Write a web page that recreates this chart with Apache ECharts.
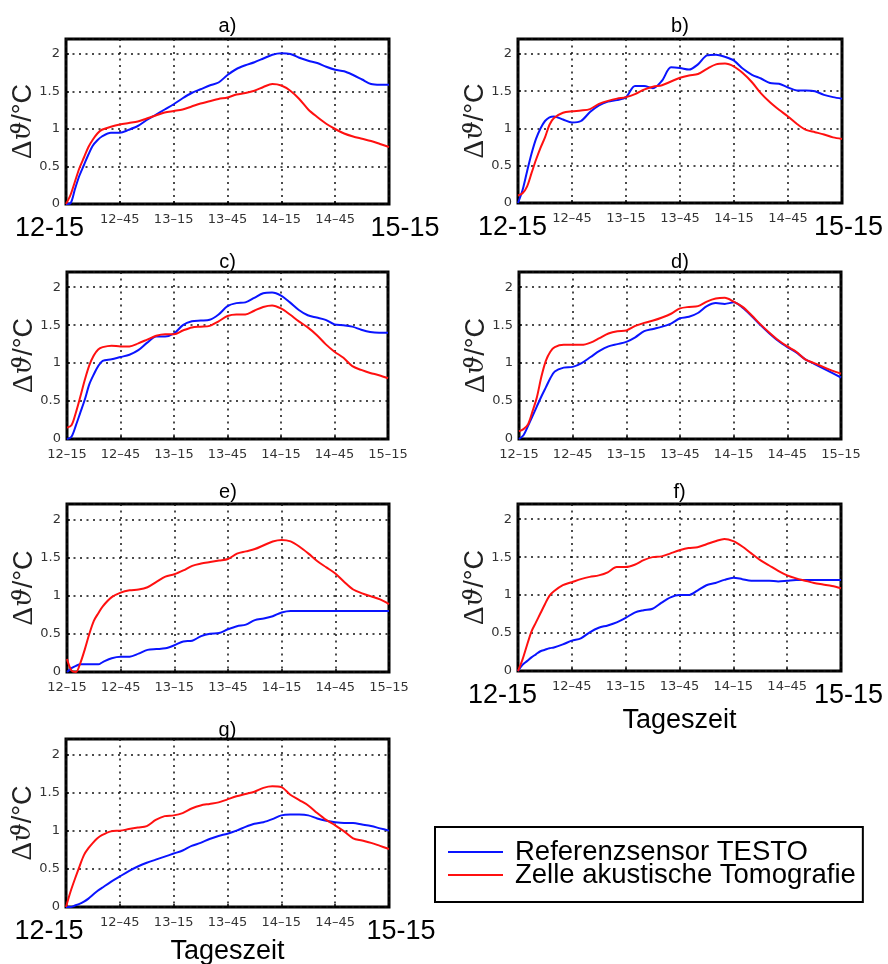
<!DOCTYPE html>
<html><head><meta charset="utf-8">
<script src="https://cdn.jsdelivr.net/npm/echarts@6/dist/echarts.min.js"></script>
<style>html,body{margin:0;padding:0;background:#fff}#c{width:888px;height:964px}</style>
</head><body><div id="c"></div>
<script>
// ---------- DATA ----------
const minutes = [0,2.5,5,7.5,10,12.5,15,17.5,20,25,30,35,40,45,50,55,60,65,70,75,80,85,90,95,100,105,110,115,120,125,130,135,140,145,150,155,160,165,170,175,180];
const xTickLabels = ['12–15','12–45','13–15','13–45','14–15','14–45','15–15'];
const bigEdgeLabels = ['12-15','15-15'];
const yTickLabels = ['0','0.5','1','1.5','2'];
const panelTitles = ['a)','b)','c)','d)','e)','f)','g)'];
const seriesNames = ['Referenzsensor TESTO','Zelle akustische Tomografie'];
const xAxisTitle = 'Tageszeit';

const aRef   = [0,0.01,0.2,0.38,0.52,0.66,0.78,0.85,0.9, 0.95,0.95,0.99,1.04,1.12,1.19,1.26,1.33,1.41,1.48,1.53,1.58,1.62,1.72,1.8,1.85,1.89,1.94,1.99,2.01,2.0,1.95,1.91,1.88,1.83,1.79,1.77,1.72,1.66,1.6,1.59,1.59];
const aZelle = [0,0.12,0.3,0.48,0.62,0.76,0.86,0.94,0.99, 1.03,1.06,1.08,1.1,1.14,1.18,1.22,1.24,1.26,1.3,1.34,1.37,1.4,1.42,1.46,1.48,1.51,1.56,1.6,1.58,1.51,1.4,1.26,1.16,1.07,1.0,0.94,0.9,0.87,0.84,0.8,0.76];
const bRef   = [0,0.17,0.42,0.66,0.86,1.0,1.1,1.15,1.16, 1.12,1.08,1.1,1.22,1.31,1.36,1.38,1.42,1.57,1.57,1.54,1.64,1.82,1.81,1.79,1.86,1.98,1.99,1.96,1.91,1.8,1.72,1.67,1.61,1.6,1.55,1.51,1.51,1.5,1.45,1.42,1.4];
const bZelle = [0.1,0.13,0.22,0.4,0.58,0.74,0.88,1.05,1.14, 1.21,1.23,1.24,1.26,1.33,1.37,1.4,1.42,1.46,1.52,1.56,1.58,1.63,1.68,1.71,1.73,1.8,1.86,1.87,1.83,1.74,1.62,1.47,1.35,1.25,1.16,1.06,0.98,0.95,0.92,0.88,0.86];
const cRef   = [0,0.03,0.18,0.35,0.52,0.72,0.85,0.96,1.03, 1.05,1.08,1.11,1.17,1.27,1.35,1.35,1.39,1.5,1.55,1.56,1.57,1.64,1.75,1.79,1.8,1.86,1.92,1.93,1.89,1.8,1.7,1.63,1.6,1.57,1.51,1.5,1.48,1.44,1.41,1.4,1.4];
const cZelle = [0.15,0.18,0.35,0.56,0.78,0.97,1.1,1.18,1.21, 1.23,1.22,1.22,1.26,1.31,1.36,1.38,1.38,1.43,1.47,1.48,1.49,1.55,1.62,1.64,1.64,1.69,1.74,1.76,1.72,1.64,1.55,1.47,1.37,1.25,1.15,1.07,0.96,0.91,0.87,0.84,0.8];
const dRef   = [0,0.05,0.17,0.3,0.43,0.56,0.68,0.8,0.89, 0.94,0.95,1.0,1.08,1.16,1.22,1.25,1.28,1.34,1.42,1.45,1.48,1.52,1.59,1.61,1.66,1.75,1.79,1.78,1.8,1.73,1.62,1.5,1.39,1.29,1.21,1.14,1.05,0.99,0.93,0.87,0.81];
const dZelle = [0.1,0.13,0.19,0.36,0.55,0.82,1.03,1.15,1.21, 1.24,1.24,1.24,1.27,1.33,1.39,1.42,1.43,1.49,1.53,1.56,1.6,1.65,1.72,1.74,1.75,1.81,1.85,1.86,1.81,1.74,1.63,1.51,1.4,1.3,1.22,1.15,1.05,1.0,0.95,0.9,0.86];
const eRef   = [0,0.05,0.08,0.1,0.1,0.1,0.1,0.1,0.13, 0.18,0.2,0.2,0.24,0.29,0.3,0.31,0.35,0.4,0.41,0.47,0.5,0.51,0.56,0.6,0.62,0.68,0.7,0.73,0.78,0.8,0.8,0.8,0.8,0.8,0.8,0.8,0.8,0.8,0.8,0.8,0.8];
const eZelle = [0.17,0.02,0.0,0.12,0.3,0.5,0.67,0.77,0.86, 0.98,1.04,1.07,1.08,1.11,1.18,1.25,1.28,1.33,1.39,1.42,1.44,1.46,1.48,1.55,1.58,1.61,1.66,1.71,1.73,1.71,1.64,1.55,1.45,1.37,1.29,1.18,1.08,1.03,0.99,0.95,0.89];
const fRef   = [0,0.08,0.13,0.18,0.22,0.26,0.28,0.3,0.31, 0.35,0.4,0.43,0.51,0.57,0.6,0.64,0.7,0.77,0.8,0.82,0.9,0.97,1.0,1.0,1.06,1.13,1.16,1.2,1.23,1.21,1.19,1.19,1.19,1.18,1.19,1.2,1.2,1.2,1.2,1.2,1.2];
const fZelle = [0,0.15,0.34,0.52,0.64,0.76,0.88,0.99,1.05, 1.13,1.17,1.21,1.24,1.26,1.3,1.37,1.37,1.4,1.46,1.5,1.51,1.55,1.59,1.62,1.63,1.67,1.71,1.74,1.71,1.64,1.55,1.46,1.39,1.32,1.26,1.22,1.19,1.16,1.14,1.12,1.09];
const gRef   = [0,0,0.02,0.04,0.07,0.11,0.16,0.21,0.25, 0.33,0.4,0.47,0.53,0.58,0.62,0.66,0.7,0.74,0.8,0.84,0.89,0.93,0.96,1.0,1.05,1.09,1.11,1.15,1.2,1.21,1.21,1.2,1.16,1.13,1.11,1.1,1.1,1.08,1.06,1.03,1.0];
const gZelle = [0,0.2,0.37,0.53,0.68,0.77,0.84,0.9,0.94, 0.99,1.0,1.02,1.04,1.06,1.14,1.19,1.2,1.23,1.29,1.33,1.35,1.37,1.41,1.45,1.48,1.51,1.56,1.58,1.57,1.47,1.4,1.33,1.23,1.14,1.07,0.99,0.9,0.87,0.84,0.8,0.76];

const refSeries = [aRef,bRef,cRef,dRef,eRef,fRef,gRef];
const zelleSeries = [aZelle,bZelle,cZelle,dZelle,eZelle,fZelle,gZelle];
const bigEdges = [true,true,false,false,false,true,true];
const showXName = [false,false,false,false,false,true,true];

// ---------- LAYOUT ----------
// padL / padR: horizontal offsets of the large edge labels
const layout = [
  {left:66, top:39, width:323, height:165, titleY:26, nameGap:30, padL:33, padR:32},
  {left:518, top:39, width:324, height:164, titleY:26, nameGap:30, padL:11, padR:13},
  {left:67, top:272, width:321, height:167, titleY:262, nameGap:30, padL:0, padR:0},
  {left:519, top:272, width:322, height:167, titleY:262, nameGap:30, padL:0, padR:0},
  {left:67, top:504, width:322, height:168, titleY:492, nameGap:30, padL:0, padR:0},
  {left:518, top:504, width:323, height:167, titleY:492, nameGap:36, padL:31, padR:15},
  {left:66, top:739, width:323, height:168, titleY:730, nameGap:31, padL:34, padR:24}
];
const BLUE = '#0a14ff', RED = '#ff1010';

const grids = [], xAxes = [], yAxes = [], series = [], graphics = [];
layout.forEach((L, i) => {
  grids.push({left:L.left, top:L.top, width:L.width, height:L.height, show:true,
    borderColor:'#000', borderWidth:3, backgroundColor:'#fff', containLabel:false, outerBoundsMode:'none'});
  const big = bigEdges[i];
  xAxes.push({
    gridIndex:i, type:'value', min:0, max:180, interval:30,
    axisLine:{show:false},
    axisTick:{show:true, inside:true, length:3, lineStyle:{color:'#000', width:1.5}},
    splitLine:{show:true, lineStyle:{color:'#111', width:1.5, type:[2,4.5]}},
    axisLabel:{
      margin:9, fontFamily:'DejaVu Sans', fontSize:13, color:'#333',
      formatter:(v) => {
        const k = Math.round(v/30);
        if (big && k === 0) return '{bl|' + bigEdgeLabels[0] + '}';
        if (big && k === 6) return '{br|' + bigEdgeLabels[1] + '}';
        return xTickLabels[k];
      },
      rich:{
        bl:{fontFamily:'Liberation Sans', fontSize:27, color:'#000', padding:[2,L.padL,0,0]},
        br:{fontFamily:'Liberation Sans', fontSize:27, color:'#000', padding:[2,0,0,L.padR]}
      }
    },
    name: showXName[i] ? xAxisTitle : '',
    nameLocation:'middle', nameGap:L.nameGap, nameMoveOverlap:false,
    nameTextStyle:{fontFamily:'Liberation Sans', fontSize:27, color:'#000'}
  });
  yAxes.push({
    gridIndex:i, type:'value', min:0, max:2.2, interval:0.5,
    axisLine:{show:false},
    axisTick:{show:true, inside:true, length:3, lineStyle:{color:'#000', width:1.5}},
    splitLine:{show:true, lineStyle:{color:'#111', width:1.5, type:[2,4.5]}},
    axisLabel:{margin:6, fontFamily:'DejaVu Sans', fontSize:13, color:'#333', showMaxLabel:false,
      formatter:(v) => { const k = Math.round(v/0.5); return (Math.abs(v - k*0.5) < 1e-6 && k < yTickLabels.length) ? yTickLabels[k] : ''; }},
    name:'{d|Δ}{t|ϑ}{s|/°C}', nameLocation:'middle', nameGap:28, nameMoveOverlap:false,
    nameTextStyle:{color:'#222', rich:{
      d:{fontFamily:'Liberation Serif', fontSize:29, color:'#222'},
      t:{fontFamily:'DejaVu Serif', fontStyle:'italic', fontSize:26, color:'#222'},
      s:{fontFamily:'Liberation Sans', fontSize:27, color:'#222'}
    }}
  });
  series.push({name:seriesNames[0], type:'line', xAxisIndex:i, yAxisIndex:i, showSymbol:false, symbol:'none',
    smooth:0.3, data:minutes.map((m,j)=>[m, refSeries[i][j]]),
    lineStyle:{color:BLUE, width:2}, itemStyle:{color:BLUE}, z:3});
  series.push({name:seriesNames[1], type:'line', xAxisIndex:i, yAxisIndex:i, showSymbol:false, symbol:'none',
    smooth:0.3, data:minutes.map((m,j)=>[m, zelleSeries[i][j]]),
    lineStyle:{color:RED, width:2}, itemStyle:{color:RED}, z:4});
  graphics.push({type:'text', x:L.left + L.width/2, y:L.titleY,
    style:{text:panelTitles[i], align:'center', verticalAlign:'middle', fontFamily:'Liberation Sans', fontSize:20, fill:'#000'}});
});

const chart = echarts.init(document.getElementById('c'), null, {renderer:'canvas'});
chart.setOption({
  animation:false,
  backgroundColor:'#fff',
  grid:grids, xAxis:xAxes, yAxis:yAxes, series:series,
  graphic:graphics,
  legend:{
    show:true, left:435, top:827, orient:'vertical', itemGap:-5, itemWidth:55, itemHeight:2, icon:'rect',
    padding:[11,7,13,13], borderColor:'#000', borderWidth:2, backgroundColor:'#fff',
    textStyle:{fontFamily:'Liberation Sans', fontSize:27.5, color:'#000', padding:[0,0,0,7]},
    data:seriesNames, selectedMode:false
  }
});
</script></body></html>
